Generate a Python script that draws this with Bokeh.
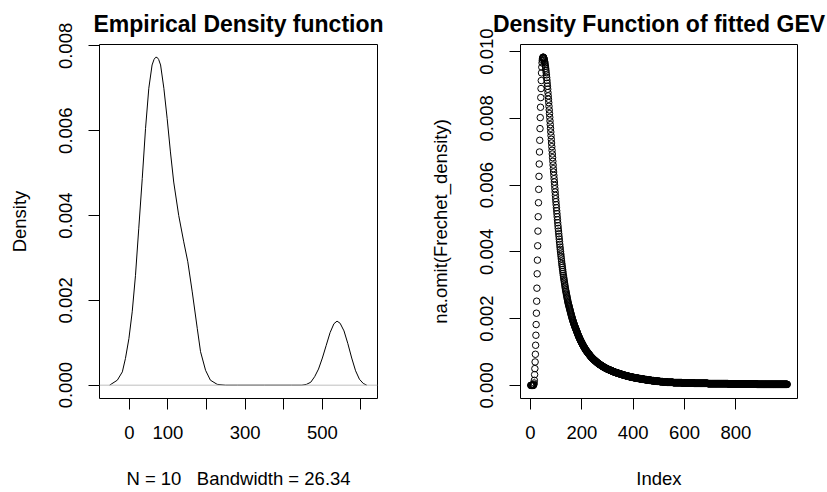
from bokeh.plotting import figure
from bokeh.layouts import row
from bokeh.models import Range1d, FixedTicker, PrintfTickFormatter, Span
from bokeh.embed import file_html
from bokeh.resources import INLINE

# ---------------- data: left panel (kernel density estimate) ----------------
EDF_X = [-51, -31, -18, -10, -1, 7.5, 16, 24.5, 33.5, 42, 50.5, 59, 64, 68, 72, 76,
         81, 89.5, 98, 106.5, 115, 128, 141, 151.5, 163, 176, 184.5, 197.5, 210,
         227.5, 249, 280, 350, 420, 447, 459, 470, 480, 490, 500, 510, 520, 530,
         538, 546, 556, 566, 576, 586, 596, 606, 615]
EDF_Y = [0, 0.000118, 0.000314, 0.00063, 0.0011, 0.00173, 0.00259, 0.0037, 0.00487,
         0.00605, 0.007, 0.00755, 0.00768, 0.00773, 0.00773, 0.00768, 0.00755, 0.007,
         0.00629, 0.0055, 0.00479, 0.004, 0.00338, 0.00291, 0.0022, 0.00134, 0.00079,
         0.00035, 0.000118, 0.00002, 0, 0, 0, 0, 0, 0.00002, 0.00007, 0.0002, 0.00038,
         0.00064, 0.00094, 0.00124, 0.00145, 0.00151, 0.00146, 0.00128, 0.00098,
         0.00064, 0.00034, 0.00014, 0.00004, 0.0]
EDF_XTICKS = [0, 100, 200, 300, 400, 500, 600]
EDF_XHIDDEN = [200, 400, 600]
EDF_YTICKS = [0, 0.002, 0.004, 0.006, 0.008]
EDF_TITLE = "Empirical Density function"
# R's xlab has three spaces before "Bandwidth"; non-breaking so SVG keeps them
EDF_XLAB = "N = 10\u00a0\u00a0 Bandwidth = 26.34"
EDF_YLAB = "Density"

# ---------------- data: right panel (fitted GEV density, units of 1e-5) -------
GEV_HEAD_E5 = [
    0, 0, 0, 0, 0, 0, 0, 0, 0, 0,
    0, 1, 3, 7, 15, 32, 50, 70, 93, 120,
    150, 182, 216, 252, 291, 334, 375, 418, 462, 505,
    547, 587, 626, 663, 699, 734, 769, 802, 833, 862,
    889, 913, 936, 953, 966, 974, 979, 982, 983, 983,
    982, 980, 977, 974, 970, 966, 961, 956, 950, 944,
    937, 930, 922, 914, 905, 896, 887, 877, 867, 857,
    847, 836, 825, 814, 803, 792, 781, 770, 759, 748,
    737, 726, 715, 704, 693, 682, 671, 660, 649, 639,
    629, 619, 609, 599, 589, 579, 569, 559, 550, 541,
    532, 523, 514, 505, 496, 487, 478, 470, 462, 454,
    446, 438, 430, 422, 414, 407, 400, 393, 386, 379,
    372, 365, 359, 353, 347, 341, 335, 329, 324, 319,
    314, 309, 304, 299, 294, 289, 285, 281, 277, 273,
    269, 265, 261, 257, 253, 249, 246, 243, 240, 237,
    234, 231, 228, 225, 222, 219, 216, 213, 210, 207,
    205, 202, 199, 197, 194, 192, 189, 187, 185, 182,
    180, 178, 176, 174, 172, 170, 168, 166, 164, 162,
    160, 158, 156, 154, 152, 150, 148, 146, 145, 143,
    141, 139, 138, 136, 134, 133, 131, 130, 128, 127,
    125, 124, 122, 121, 119, 118, 117, 115, 114, 113,
    111, 110, 109, 108, 106, 105, 104, 103, 102, 101,
    100, 99, 98, 97, 96, 95, 94, 93, 92, 91,
    90, 89, 88, 87, 86, 85, 84, 84, 83, 82,
    81, 80, 80, 79, 78, 77, 77, 76, 75, 75,
    74, 73, 73, 72, 71, 71, 70, 69, 69, 68,
    67, 67, 66, 66, 65, 64, 64, 63, 63, 62,
    62, 61, 61, 60, 60, 59, 59, 58, 58, 57,
    57, 56, 56, 55, 55, 54, 54, 54, 53, 53,
    52, 52, 51, 51, 51, 50, 50, 49, 49, 49,
]
# tail (indices 301..1000) as (value, repeat count): the band is flat at pixel scale
GEV_TAIL_RUNS_E5 = [
    (48, 3), (47, 3), (46, 3), (45, 3), (44, 3), (43, 3), (42, 3), (41, 3), (40, 3),
    (39, 4), (38, 4), (37, 4), (36, 4), (35, 4), (34, 4), (33, 4), (32, 4), (31, 4),
    (30, 5), (29, 5), (28, 5), (27, 5), (26, 5),
    (25, 6), (24, 6),
    (23, 7), (22, 7), (21, 7), (20, 7),
    (19, 8), (18, 8), (17, 8),
    (16, 9), (15, 9),
    (14, 10), (13, 11), (12, 12), (11, 13), (10, 14),
    (9, 25), (8, 35), (7, 45), (6, 55), (5, 80), (4, 110), (3, 120),
]
GEV_XTICKS = [0, 200, 400, 600, 800]
GEV_YTICKS = [0, 0.002, 0.004, 0.006, 0.008, 0.010]
GEV_TITLE = "Density Function of fitted GEV"
GEV_XLAB = "Index"
GEV_YLAB = "na.omit(Frechet_density)"

gev_e5 = list(GEV_HEAD_E5)
for v, n in GEV_TAIL_RUNS_E5:
    gev_e5.extend([v] * n)
gev_density = [v * 1e-5 for v in gev_e5]
gev_index = list(range(1, len(gev_density) + 1))

# ---------------- styling ----------------
FONT = "Liberation Sans"
AX_SIZE = "18.5px"
TITLE_SIZE = "23px"
FIG_H = 492


def style(p, title_text, xlab, ylab):
    p.title.text = title_text
    p.title.text_font = FONT
    p.title.text_font_size = TITLE_SIZE
    p.title.text_font_style = "bold"
    p.title.align = "center"
    p.title.text_color = "black"
    p.title.standoff = 15
    p.grid.visible = False
    p.outline_line_color = "black"
    p.outline_line_width = 1
    p.background_fill_color = "white"
    p.border_fill_color = "white"
    for ax in (p.xaxis[0], p.yaxis[0]):
        ax.axis_line_color = None
        ax.major_tick_out = 11
        ax.major_tick_in = 0
        ax.major_tick_line_color = "black"
        ax.minor_tick_line_color = None
        ax.major_label_text_font = FONT
        ax.major_label_text_font_size = AX_SIZE
        ax.major_label_text_color = "black"
        ax.axis_label_text_font = FONT
        ax.axis_label_text_font_size = AX_SIZE
        ax.axis_label_text_font_style = "normal"
        ax.axis_label_text_color = "black"
    p.xaxis[0].major_label_standoff = 16
    p.xaxis[0].axis_label = xlab
    p.xaxis[0].axis_label_standoff = 26
    p.yaxis[0].major_label_standoff = 16
    p.yaxis[0].major_label_orientation = "parallel"
    p.yaxis[0].axis_label = ylab
    p.yaxis[0].axis_label_standoff = 27


# ---------------- left panel ----------------
p1 = figure(width=414, height=FIG_H, output_backend="svg", toolbar_location=None,
            x_range=Range1d(-77.2, 642.8), y_range=Range1d(-0.000314, 0.008033),
            min_border_left=99, min_border_right=37, min_border_top=44,
            min_border_bottom=94)
style(p1, EDF_TITLE, EDF_XLAB, EDF_YLAB)
p1.line(EDF_X, EDF_Y, line_color="black", line_width=1)
p1.add_layout(Span(location=0, dimension="width", line_color="#bebebe", line_width=1))
p1.xaxis[0].ticker = FixedTicker(ticks=EDF_XTICKS)
p1.xaxis[0].major_label_overrides = {t: "" for t in EDF_XHIDDEN}
p1.yaxis[0].ticker = FixedTicker(ticks=EDF_YTICKS)
p1.yaxis[0].formatter = PrintfTickFormatter(format="%.3f")

# ---------------- right panel ----------------
p2 = figure(width=413, height=FIG_H, output_backend="svg", toolbar_location=None,
            x_range=Range1d(-38.96, 1039.96), y_range=Range1d(-0.000395, 0.01021),
            min_border_left=106, min_border_right=30, min_border_top=44,
            min_border_bottom=94)
style(p2, GEV_TITLE, GEV_XLAB, GEV_YLAB)
p2.scatter(gev_index, gev_density, marker="circle", size=6.5, fill_color=None,
           line_color="black", line_width=1)
p2.xaxis[0].ticker = FixedTicker(ticks=GEV_XTICKS)
p2.yaxis[0].ticker = FixedTicker(ticks=GEV_YTICKS)
p2.yaxis[0].formatter = PrintfTickFormatter(format="%.3f")

layout = row(p1, p2)
open("out.html", "w").write(file_html(layout, INLINE))
